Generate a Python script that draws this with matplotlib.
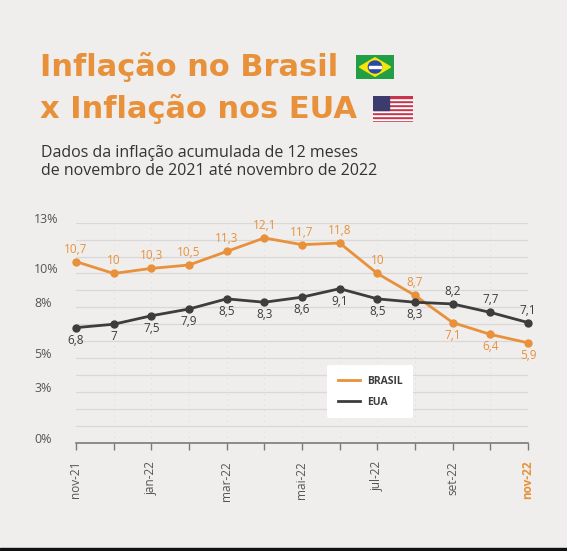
import numpy as np
import matplotlib.pyplot as plt
from matplotlib.patches import Rectangle, Polygon, Circle

# dados (inflação acumulada 12 meses, %)
meses = ['nov-21', 'dez-21', 'jan-22', 'fev-22', 'mar-22', 'abr-22', 'mai-22',
         'jun-22', 'jul-22', 'ago-22', 'set-22', 'out-22', 'nov-22']
brasil = [10.7, 10.0, 10.3, 10.5, 11.3, 12.1, 11.7, 11.8, 10.0, 8.7, 7.1, 6.4, 5.9]
eua = [6.8, 7.0, 7.5, 7.9, 8.5, 8.3, 8.6, 9.1, 8.5, 8.3, 8.2, 7.7, 7.1]
y_ticks = [0, 3, 5, 8, 10, 13]

LARANJA = '#e8913a'
CINZA = '#3d3d3d'
FUNDO = '#efeeec'

plt.rcParams['font.family'] = ['Open Sans', 'DejaVu Sans']


def fmt(v):
    s = ('%.1f' % v).rstrip('0').rstrip('.')
    return s.replace('.', ',')


def bandeira_brasil(fig, rect):
    ax = fig.add_axes(rect)
    ax.set_xlim(0, 10)
    ax.set_ylim(0, 7)
    ax.axis('off')
    ax.add_patch(Rectangle((0, 0), 10, 7, color='#229e45'))
    ax.add_patch(Polygon([[0.9, 3.5], [5, 6.2], [9.1, 3.5], [5, 0.8]], color='#f8e509'))
    ax.add_patch(Circle((5, 3.5), 1.75, color='#2b49a3'))
    ax.add_patch(Rectangle((3.3, 3.3), 3.4, 0.35, color='white'))


def bandeira_eua(fig, rect):
    ax = fig.add_axes(rect)
    ax.set_xlim(0, 19)
    ax.set_ylim(0, 13)
    ax.axis('off')
    for i in range(13):
        ax.add_patch(Rectangle((0, i), 19, 1, color='#c8344a' if i % 2 == 0 else 'white'))
    ax.add_patch(Rectangle((0, 6), 7.6, 7, color='#3c3b6e'))


fig = plt.figure(figsize=(5.67, 5.51), dpi=100, facecolor=FUNDO)
W, H = 567, 551

titulo = dict(color=LARANJA, fontsize=22, fontweight='bold', va='baseline',
              ha='left', family='DejaVu Sans')
fig.text(40 / W, 1 - 76 / H, 'Inflação no Brasil', **titulo)
fig.text(40 / W, 1 - 118 / H, 'x Inflação nos EUA', **titulo)
sub = dict(color='#333333', fontsize=11.5, va='baseline', ha='left')
fig.text(41 / W, 1 - 157 / H, 'Dados da inflação acumulada de 12 meses', **sub)
fig.text(41 / W, 1 - 175.5 / H, 'de novembro de 2021 até novembro de 2022', **sub)

bandeira_brasil(fig, [356 / W, 1 - 79 / H, 38 / W, 24 / H])
bandeira_eua(fig, [373 / W, 1 - 122 / H, 40 / W, 26 / H])

ax = fig.add_axes([76 / W, 1 - 442.7 / H, 452 / W, 220 / H])
ax.set_facecolor(FUNDO)
x = np.arange(len(meses))

ax.set_xlim(0, len(meses) - 1)
ax.set_ylim(0, 13)
for v in range(1, 14):
    ax.axhline(v, color='#d9d8d6', lw=0.9, zorder=0)
for xi in x[1:]:
    ax.axvline(xi, color='#e2e1df', lw=0.7, ls=(0, (1.5, 4)), zorder=0)

ax.plot(x, brasil, color=LARANJA, lw=2, marker='o', ms=5, clip_on=False, zorder=3,
        label='BRASIL')
ax.plot(x, eua, color=CINZA, lw=2, marker='o', ms=5, clip_on=False, zorder=3,
        label='EUA')

for xi, b, e in zip(x, brasil, eua):
    sb = 9 if b > e else -9
    ax.annotate(fmt(b), (xi, b), xytext=(0, sb), textcoords='offset points',
                ha='center', va='center', color=LARANJA, fontsize=8.5)
    ax.annotate(fmt(e), (xi, e), xytext=(0, -sb), textcoords='offset points',
                ha='center', va='center', color=CINZA, fontsize=8.5)

for s in ['top', 'right', 'left']:
    ax.spines[s].set_visible(False)
ax.spines['bottom'].set_color('#7a7a7a')
ax.spines['bottom'].set_linewidth(1.2)

ax.set_xticks(x)
ax.set_xticklabels([m if i % 2 == 0 else '' for i, m in enumerate(meses)],
                   rotation=90, fontsize=8.5, color='#555555')
ax.tick_params(axis='x', length=5, width=1, color='#7a7a7a', pad=8)
lbl = ax.get_xticklabels()[-1]
lbl.set_color(LARANJA)
lbl.set_fontweight('bold')

ax.set_yticks(y_ticks)
ax.set_yticklabels(['%d%%' % v for v in y_ticks], fontsize=9, color='#555555', ha='left')
ax.tick_params(axis='y', length=0, pad=30)
for t in ax.get_yticklabels():
    t.set_va('baseline')

leg = ax.legend(loc='upper left', bbox_to_anchor=(0.544, 0.376), frameon=True,
                fancybox=True, facecolor='white', edgecolor='none', framealpha=1,
                handlelength=2.2, handletextpad=0.6, borderpad=1.0, labelspacing=1.0,
                prop={'weight': 'bold', 'size': 7.5})
for t in leg.get_texts():
    t.set_color(CINZA)
for h in leg.legend_handles:
    h.set_marker('')

fig.patches.append(Rectangle((0, 0), 1, 3 / H, transform=fig.transFigure,
                             color='#111111', zorder=10))

fig.savefig('out.png', dpi=100, facecolor=FUNDO)
